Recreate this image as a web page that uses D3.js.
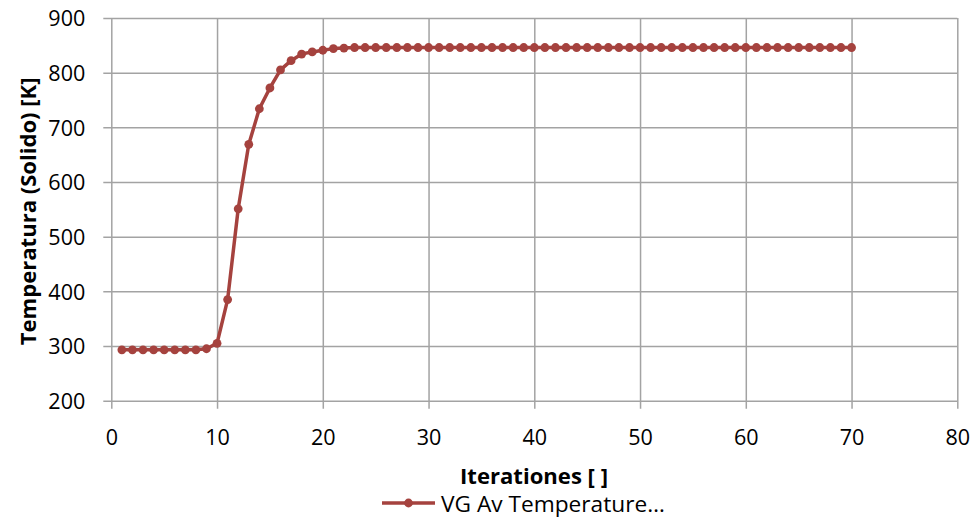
<!DOCTYPE html>
<html>
<head>
<meta charset="utf-8">
<script src="https://cdn.jsdelivr.net/npm/d3@7"></script>
<style>
  html, body { margin: 0; padding: 0; background: #fff; }
  svg { display: block; }
  text { font-family: "Open Sans", Lato, "Liberation Sans", sans-serif; fill: #000; }
</style>
</head>
<body>
<svg id="chart" width="973" height="517"></svg>
<script>
// Solid average temperature per iteration
const iterations = d3.range(1, 71);
const temperature = [
  293, 293, 293, 293, 293, 293, 293, 293, 295, 305,
  385, 551, 669, 734, 772, 805, 822, 834, 838, 841,
  844, 845, 846, 846, 846, 846, 846, 846, 846, 846,
  846, 846, 846, 846, 846, 846, 846, 846, 846, 846,
  846, 846, 846, 846, 846, 846, 846, 846, 846, 846,
  846, 846, 846, 846, 846, 846, 846, 846, 846, 846,
  846, 846, 846, 846, 846, 846, 846, 846, 846, 846
];
const xTicks = [0, 10, 20, 30, 40, 50, 60, 70, 80];
const yTicks = [200, 300, 400, 500, 600, 700, 800, 900];
const seriesName = "VG Av Temperature…";

const svg = d3.select("#chart");
const plot = { left: 111.3, right: 957.3, top: 18, bottom: 400.7 };
const lineColor = "#A5423E";
const gridColor = "#A3A3A3";

const x = d3.scaleLinear().domain([0, 80]).range([plot.left, plot.right]);
const y = d3.scaleLinear().domain([200, 900]).range([plot.bottom, plot.top]);
const plotH = plot.bottom - plot.top;
const plotW = plot.right - plot.left;

// Font size that makes a string span the given width
function fitSize(str, width, weight) {
  const t = svg.append("text").attr("font-size", 20).attr("font-weight", weight).text(str);
  const w = t.node().getComputedTextLength();
  t.remove();
  return 20 * width / w;
}
const tickSize = fitSize("900", 37, "normal");

// Grid and axes
const gx = svg.append("g")
  .attr("transform", `translate(0,${plot.bottom})`)
  .call(d3.axisBottom(x).tickValues(xTicks).tickSize(-plotH).tickSizeOuter(0).tickPadding(0));
gx.select(".domain").remove();
gx.selectAll(".tick line").attr("stroke", gridColor).attr("stroke-width", 1.5)
  .attr("y1", 8).attr("y2", -plotH);
gx.selectAll(".tick text").attr("font-size", tickSize).attr("dy", null).attr("y", 44.3);

const gy = svg.append("g")
  .attr("transform", `translate(${plot.left},0)`)
  .call(d3.axisLeft(y).tickValues(yTicks).tickSize(-plotW).tickSizeOuter(0).tickPadding(0));
gy.select(".domain").remove();
gy.selectAll(".tick line").attr("stroke", gridColor).attr("stroke-width", 1.5)
  .attr("x1", -8).attr("x2", plotW);
gy.selectAll(".tick text").attr("font-size", tickSize).attr("x", -26).attr("dy", "0.36em");

// Series line and markers
const pts = iterations.map((it, i) => [it, temperature[i]]);
svg.append("path")
  .datum(pts)
  .attr("fill", "none")
  .attr("stroke", lineColor)
  .attr("stroke-width", 3.5)
  .attr("stroke-linejoin", "round")
  .attr("d", d3.line().x(d => x(d[0])).y(d => y(d[1])));

svg.append("g").selectAll("circle")
  .data(pts)
  .join("circle")
  .attr("cx", d => x(d[0]))
  .attr("cy", d => y(d[1]))
  .attr("r", 4.4)
  .attr("fill", lineColor);

// Axis titles
const xTitle = "Iterationes [ ]";
svg.append("text")
  .attr("x", 534).attr("y", 483.5)
  .attr("text-anchor", "middle")
  .attr("font-size", fitSize(xTitle, 148, "bold")).attr("font-weight", "bold")
  .text(xTitle);

const yTitle = "Temperatura (Solido) [K]";
svg.append("text")
  .attr("transform", `translate(35.5,${(plot.top + plot.bottom) / 2 + 2}) rotate(-90)`)
  .attr("text-anchor", "middle")
  .attr("font-size", fitSize(yTitle, 268, "bold")).attr("font-weight", "bold")
  .text(yTitle);

// Legend
const lg = svg.append("g");
lg.append("line")
  .attr("x1", 382).attr("x2", 435).attr("y1", 503).attr("y2", 503)
  .attr("stroke", lineColor).attr("stroke-width", 3.5);
lg.append("circle").attr("cx", 408.5).attr("cy", 503).attr("r", 4.4).attr("fill", lineColor);
lg.append("text")
  .attr("x", 441).attr("y", 511.5)
  .attr("font-size", fitSize(seriesName, 224, "normal"))
  .text(seriesName);
</script>
</body>
</html>
